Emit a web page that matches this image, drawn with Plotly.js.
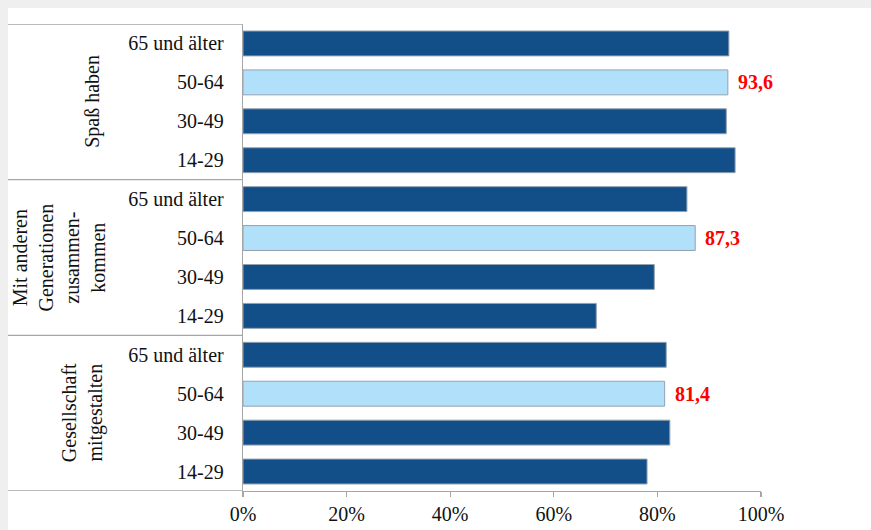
<!DOCTYPE html>
<html>
<head>
<meta charset="utf-8">
<script src="https://cdn.plot.ly/plotly-3.0.1.min.js"></script>
<style>
  html, body { margin: 0; padding: 0; background: #efefef; }
  #chart { width: 871px; height: 530px; }
</style>
</head>
<body>
<div id="chart"></div>
<script>
// Activity groups (top to bottom) and the age brackets shown within each
const groups = ['Spaß haben', 'Mit anderen<br>Generationen<br>zusammen-<br>kommen', 'Gesellschaft<br>mitgestalten'];
const ages = ['65 und älter', '50-64', '30-49', '14-29'];

// Share in percent per age bracket, one array per group
const spassHaben = [93.8, 93.6, 93.3, 95.0];
const generationen = [85.7, 87.3, 79.4, 68.2];
const gesellschaft = [81.7, 81.4, 82.4, 78.0];
const groupValues = [spassHaben, generationen, gesellschaft];

// Highlighted age bracket (drawn light and labelled with its value)
const highlightAge = '50-64';

const xTickVals = [0, 20, 40, 60, 80, 100];
const xTickText = ['0%', '20%', '40%', '60%', '80%', '100%'];

// ---- build the flat series from the arrays above ----
const yPos = [], xVals = [], tickText = [], colors = [];
groups.forEach((g, gi) => {
  ages.forEach((a, ai) => {
    const idx = gi * ages.length + ai;
    yPos.push(idx);
    xVals.push(groupValues[gi][ai]);
    tickText.push(a);
    colors.push(a === highlightAge ? '#b1e0fb' : '#124e88');
  });
});

const W = 871, H = 530;
const margin = { l: 243, r: 110, t: 24, b: 39 };
const plotW = W - margin.l - margin.r;
const plotH = H - margin.t - margin.b;
const px2x = p => (p - margin.l) / plotW;
const py2y = p => (H - margin.b - p) / plotH;

const serif = '"Liberation Serif", "DejaVu Serif", serif';
const lineColor = '#a6a6a6';

const trace = {
  type: 'bar',
  orientation: 'h',
  x: xVals,
  y: yPos,
  width: 0.64,
  marker: { color: colors, line: { color: '#93a1b0', width: 1 } },
  hoverinfo: 'skip'
};

const annotations = [];
// value labels on highlighted bars
yPos.forEach((y, i) => {
  if (tickText[i] === highlightAge) {
    annotations.push({
      x: xVals[i], y: y, xref: 'x', yref: 'y',
      text: xVals[i].toFixed(1).replace('.', ','),
      showarrow: false, xanchor: 'left', yanchor: 'middle', xshift: 8,
      font: { family: serif, size: 20, color: '#ff0000', weight: 'bold' }
    });
  }
});
// rotated group labels
const groupLabelX = [93, 58, 82];
groups.forEach((g, gi) => {
  annotations.push({
    x: px2x(groupLabelX[gi]), xref: 'paper',
    y: gi * ages.length + (ages.length - 1) / 2, yref: 'y',
    text: g, textangle: -90, showarrow: false,
    xanchor: 'center', yanchor: 'middle',
    font: { family: serif, size: 20, color: '#111111' }
  });
});

const shapes = [
  // white panel on the grey page
  { type: 'rect', xref: 'paper', yref: 'paper', layer: 'below',
    x0: px2x(8), x1: px2x(W + 10), y0: py2y(H + 10), y1: py2y(8),
    fillcolor: '#ffffff', line: { width: 0 } }
];
// horizontal rules separating the groups in the label column
for (let k = 0; k <= groups.length; k++) {
  const yb = k * ages.length - 0.5;
  shapes.push({ type: 'line', xref: 'paper', yref: 'y',
    x0: px2x(8), x1: 0, y0: yb, y1: yb,
    line: { color: lineColor, width: 1.3 } });
}

const layout = {
  width: W, height: H,
  margin: margin,
  paper_bgcolor: '#efefef',
  plot_bgcolor: '#ffffff',
  showlegend: false,
  font: { family: serif, size: 20, color: '#111111' },
  xaxis: {
    range: [0, 100], tickvals: xTickVals, ticktext: xTickText,
    showgrid: false, zeroline: false,
    showline: true, linecolor: lineColor, linewidth: 1.3,
    ticks: 'outside', ticklen: 5, tickcolor: lineColor, tickwidth: 1.3,
    tickfont: { family: serif, size: 20, color: '#111111' },
    fixedrange: true
  },
  yaxis: {
    range: [yPos.length - 0.5, -0.5],
    tickvals: yPos, ticktext: tickText,
    showgrid: false, zeroline: false,
    showline: true, linecolor: lineColor, linewidth: 1.3,
    ticks: '', ticklabelstandoff: 14,
    tickfont: { family: serif, size: 20, color: '#111111' },
    fixedrange: true
  },
  bargap: 0.36,
  shapes: shapes,
  annotations: annotations
};

Plotly.newPlot('chart', [trace], layout, { displayModeBar: false, staticPlot: true });
</script>
</body>
</html>
